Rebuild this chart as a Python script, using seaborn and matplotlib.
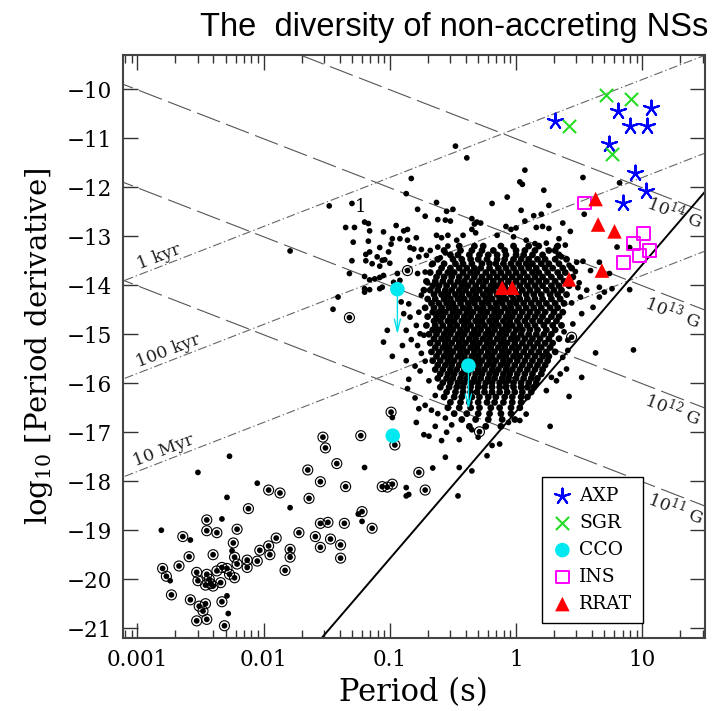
import numpy as np
import pandas as pd
import matplotlib
matplotlib.use("Agg")
import matplotlib.pyplot as plt
import seaborn as sns
from matplotlib.ticker import FixedLocator, FixedFormatter, NullFormatter, NullLocator

sns.set_style("ticks")
plt.rcParams["font.family"] = ["DejaVu Serif"]
plt.rcParams["mathtext.fontset"] = "dejavuserif"
plt.rcParams["text.color"] = "black"
plt.rcParams["axes.labelcolor"] = "black"

# ---------------- data (log10 P [s], log10 Pdot) ----------------
# sparse radio pulsars around the main cloud
halo_pts = [
    (-0.48,-11.16),(-0.39,-11.40),(0.07,-11.65),(-0.83,-11.82),(0.03,-11.89),(0.05,-11.94),(0.53,-11.80),
    (0.82,-11.91),(0.22,-12.06),(-0.87,-12.13),(-0.07,-12.20),(-0.63,-12.31),(-0.19,-12.33),(-1.30,-12.33),
    (-1.48,-12.38),(0.26,-12.37),(-0.55,-12.49),(-0.50,-12.45),(-0.78,-12.45),(0.04,-12.47),(0.54,-12.55),
    (0.14,-12.58),(0.20,-12.55),(-0.72,-12.59),(-0.62,-12.66),(-0.56,-12.67),(-0.52,-12.69),(-0.35,-12.64),
    (-0.31,-12.71),(-0.33,-12.75),(-0.28,-12.73),(0.07,-12.69),(0.37,-12.73),(-1.35,-12.82),(-1.28,-12.82),
    (-1.20,-12.71),(-1.17,-12.74),(-1.16,-12.89),(-0.95,-12.78),(-1.05,-12.91),(-0.89,-12.89),(-0.86,-12.86),
    (0.16,-12.82),(0.21,-12.80),(0.26,-12.84),(-0.08,-12.80),(-0.04,-12.86),(0.00,-12.83),(-0.35,-12.86),
    (-0.32,-12.93),(0.43,-12.90),(-0.42,-12.98),(-0.15,-12.98),(-0.02,-13.01),(0.08,-13.08),(0.15,-13.15),
    (0.24,-13.14),(0.34,-13.05),(0.32,-13.22),(0.39,-13.18),(-0.98,-13.05),(-1.29,-13.12),(-1.17,-13.10),
    (-0.99,-13.16),(-0.92,-13.05),(-0.86,-13.08),(-0.79,-13.03),(-0.63,-12.98),(-0.59,-13.03),(-0.54,-12.98),
    (-0.47,-13.08),(-1.79,-13.30),(-1.08,-13.23),(-1.01,-13.32),(-1.16,-13.32),(-1.19,-13.37),(-1.10,-13.42),
    (-1.04,-13.48),(-0.84,-13.23),(-0.81,-13.26),(-0.75,-13.27),(-0.68,-13.29),(-0.62,-13.22),(-0.54,-13.20),
    (0.80,-13.22),(0.90,-13.23),(0.36,-13.42),(-1.30,-13.50),(-1.19,-13.50),(-1.06,-13.49),(-1.00,-13.55),
    (-1.14,-13.56),(-1.08,-13.61),(-0.84,-13.49),(-0.77,-13.42),(-0.71,-13.39),(-0.60,-13.44),(-0.56,-13.34),
    (0.48,-13.53),(0.42,-13.59),(0.53,-13.51),(0.66,-13.53),(0.59,-13.70),(0.74,-13.76),(-1.32,-13.76),
    (-1.20,-13.82),(-1.16,-13.89),(-1.12,-13.87),(-1.08,-13.84),(-1.05,-13.80),(-0.94,-13.76),(-0.97,-13.94),
    (-0.92,-13.90),(-0.78,-13.76),(-0.72,-13.73),(-1.20,-14.07),(-1.16,-14.09),(-1.08,-14.07),(-1.06,-14.04),
    (-1.20,-14.14),(-1.41,-14.24),(-1.45,-14.49),(0.66,-14.04),(0.90,-14.09),(0.51,-14.24),(0.56,-14.10),
    (0.66,-14.24),(0.70,-14.14),(0.76,-14.07),(0.61,-14.45),(0.52,-14.58),(0.45,-14.79),(-0.91,-14.34),
    (-0.85,-14.38),(-0.89,-14.58),(-0.84,-14.65),(-0.79,-14.82),(-0.76,-14.99),(-1.02,-14.92),(-0.87,-14.92),
    (-1.05,-15.16),(-0.83,-15.11),(-0.90,-15.23),(-0.78,-15.23),(-0.75,-15.39),(-0.98,-15.45),(-0.87,-15.54),
    (-0.80,-15.65),(-0.76,-15.75),(-0.85,-15.92),(-0.86,-16.11),(-0.80,-16.30),(-0.77,-16.52),(-0.72,-16.45),
    (-0.67,-16.55),(-0.79,-16.80),(-0.98,-16.70),(-0.62,-16.62),(-0.56,-16.71),(-0.51,-16.85),(-0.73,-17.05),
    (-0.69,-17.08),(-0.64,-16.88),(-0.59,-17.17),(-0.55,-17.00),(-0.45,-17.15),(-0.30,-17.10),(-0.35,-16.95),
    (-0.66,-17.73),(-0.56,-17.51),(-0.45,-17.72),(-0.35,-17.79),(-0.46,-18.30),(-0.23,-17.48),(-0.13,-17.24),
    (-0.19,-17.27),(0.41,-15.33),(0.37,-15.47),(0.35,-15.81),(0.28,-15.88),(0.32,-15.95),(0.24,-16.15),
    (0.08,-16.63),(0.03,-16.76),(-0.06,-16.80),(0.40,-15.71),(0.52,-15.88),(0.42,-16.27),(0.27,-16.88),
    (0.63,-15.38),(0.93,-15.32),(-0.87,-18.13),(-0.85,-18.27),(0.47,-13.72),(0.50,-13.95),(0.44,-14.36),
    (0.49,-14.05),(0.38,-14.95),(0.41,-15.12),(-0.67,-13.58),(-0.70,-13.95),(-0.75,-14.20),(-0.77,-14.55),
    (-0.73,-15.02),(-0.72,-15.55),(-0.69,-15.95),(-0.64,-16.25),
]
# isolated (non-binary) millisecond pulsars
msp_pts = [
    (-2.81,-19.00),(-2.52,-17.82),(-2.27,-17.49),(-2.05,-18.04),(-2.29,-18.33),(-1.79,-18.54),(-2.33,-18.77),
    (-2.58,-19.20),(-2.74,-20.03),(-2.29,-20.34),(-2.28,-20.70),(-1.20,-17.72),(-1.22,-18.82),(-1.25,-18.67),
    (-0.87,-18.30),(-2.25,-19.42),
]
# dense core of the radio pulsar cloud, row by row
core_row_log10Pdot = [-13.20,-13.29,-13.38,-13.47,-13.56,-13.65,-13.74,-13.83,-13.92,-14.01,-14.10,-14.19,
                      -14.28,-14.37,-14.46,-14.55,-14.64,-14.73,-14.82,-14.91,-15.00,-15.09,-15.18,-15.27,
                      -15.36,-15.45,-15.54,-15.63,-15.72,-15.81,-15.90,-15.99,-16.08,-16.18,-16.28,-16.39,
                      -16.50,-16.62,-16.74,-16.88]
core_row_log10P = [
    [-0.45,-0.33,-0.26,-0.12,-0.02,0.10,0.18,0.33],
    [-0.57,-0.44,-0.35,-0.27,-0.18,-0.09,0.00,0.07,0.15,0.26,0.31],
    [-0.52,-0.46,-0.37,-0.29,-0.22,-0.15,-0.08,0.00,0.06,0.13,0.21,0.34],
    [-0.62,-0.50,-0.43,-0.36,-0.30,-0.23,-0.15,-0.09,-0.02,0.04,0.10,0.17,0.23,0.31,0.40],
    [-0.66,-0.57,-0.48,-0.42,-0.35,-0.27,-0.21,-0.16,-0.10,-0.04,0.02,0.08,0.13,0.20,0.26,0.34],
    [-0.59,-0.52,-0.45,-0.39,-0.33,-0.28,-0.21,-0.14,-0.08,-0.02,0.04,0.10,0.16,0.23,0.29,0.37,0.44],
    [-0.68,-0.61,-0.54,-0.49,-0.42,-0.36,-0.31,-0.24,-0.18,-0.12,-0.06,0.00,0.06,0.13,0.18,0.25,0.33,0.39],
    [-0.63,-0.57,-0.51,-0.45,-0.39,-0.33,-0.27,-0.21,-0.15,-0.09,-0.03,0.03,0.09,0.15,0.21,0.28,0.35,0.45],
    [-0.71,-0.64,-0.58,-0.52,-0.46,-0.41,-0.35,-0.29,-0.24,-0.18,-0.12,-0.06,0.00,0.06,0.12,0.18,0.24,0.31,0.38],
    [-0.66,-0.61,-0.55,-0.49,-0.43,-0.38,-0.32,-0.26,-0.20,-0.15,-0.09,-0.03,0.03,0.09,0.15,0.21,0.28,0.34,0.42],
    [-0.73,-0.68,-0.62,-0.56,-0.51,-0.45,-0.40,-0.34,-0.29,-0.23,-0.18,-0.12,-0.07,-0.01,0.05,0.11,0.17,0.24,0.30,0.36],
    [-0.65,-0.59,-0.54,-0.48,-0.43,-0.37,-0.32,-0.26,-0.21,-0.15,-0.10,-0.04,0.02,0.08,0.14,0.20,0.27,0.33,0.40],
    [-0.70,-0.64,-0.57,-0.52,-0.46,-0.41,-0.35,-0.30,-0.24,-0.19,-0.13,-0.08,-0.02,0.03,0.09,0.15,0.21,0.28,0.35],
    [-0.67,-0.61,-0.55,-0.50,-0.44,-0.38,-0.33,-0.27,-0.22,-0.16,-0.11,-0.05,0.00,0.06,0.12,0.18,0.24,0.31,0.38],
    [-0.72,-0.65,-0.59,-0.53,-0.48,-0.42,-0.37,-0.31,-0.26,-0.20,-0.15,-0.09,-0.04,0.02,0.08,0.14,0.20,0.27,0.33],
    [-0.66,-0.61,-0.56,-0.50,-0.45,-0.39,-0.34,-0.28,-0.23,-0.17,-0.12,-0.06,-0.01,0.05,0.11,0.17,0.23,0.30,0.37],
    [-0.70,-0.63,-0.58,-0.52,-0.47,-0.41,-0.36,-0.30,-0.25,-0.19,-0.14,-0.08,-0.03,0.03,0.09,0.15,0.21,0.28,0.34],
    [-0.65,-0.60,-0.54,-0.49,-0.43,-0.38,-0.32,-0.27,-0.21,-0.16,-0.10,-0.05,0.01,0.07,0.13,0.19,0.25,0.32],
    [-0.71,-0.64,-0.58,-0.52,-0.47,-0.41,-0.36,-0.30,-0.25,-0.19,-0.14,-0.08,-0.03,0.03,0.09,0.15,0.22,0.29,0.36],
    [-0.66,-0.61,-0.55,-0.50,-0.44,-0.39,-0.33,-0.28,-0.22,-0.17,-0.11,-0.06,0.00,0.05,0.11,0.17,0.24,0.31],
    [-0.69,-0.63,-0.57,-0.52,-0.46,-0.41,-0.35,-0.30,-0.24,-0.19,-0.13,-0.08,-0.02,0.04,0.10,0.16,0.22,0.28],
    [-0.65,-0.59,-0.54,-0.48,-0.43,-0.37,-0.32,-0.26,-0.21,-0.15,-0.10,-0.04,0.01,0.07,0.13,0.19,0.26,0.34],
    [-0.68,-0.62,-0.56,-0.51,-0.45,-0.40,-0.34,-0.29,-0.23,-0.18,-0.12,-0.07,-0.01,0.05,0.11,0.17,0.23,0.29],
    [-0.64,-0.58,-0.53,-0.47,-0.42,-0.36,-0.31,-0.25,-0.20,-0.14,-0.09,-0.03,0.02,0.08,0.14,0.20,0.27],
    [-0.67,-0.61,-0.55,-0.50,-0.44,-0.39,-0.33,-0.28,-0.22,-0.17,-0.11,-0.06,0.00,0.06,0.12,0.18,0.24,0.31],
    [-0.63,-0.57,-0.52,-0.46,-0.41,-0.35,-0.30,-0.24,-0.19,-0.13,-0.08,-0.02,0.03,0.09,0.15,0.21,0.26],
    [-0.66,-0.60,-0.54,-0.49,-0.43,-0.38,-0.32,-0.27,-0.21,-0.16,-0.10,-0.05,0.01,0.07,0.13,0.19,0.25],
    [-0.62,-0.56,-0.51,-0.45,-0.40,-0.34,-0.29,-0.23,-0.18,-0.12,-0.07,-0.01,0.05,0.11,0.17,0.23],
    [-0.64,-0.58,-0.52,-0.47,-0.41,-0.36,-0.30,-0.25,-0.19,-0.14,-0.08,-0.03,0.03,0.09,0.15,0.21],
    [-0.60,-0.54,-0.49,-0.43,-0.38,-0.32,-0.27,-0.21,-0.16,-0.10,-0.05,0.01,0.07,0.13,0.20],
    [-0.62,-0.55,-0.50,-0.44,-0.39,-0.33,-0.28,-0.22,-0.17,-0.11,-0.06,0.00,0.06,0.12,0.17],
    [-0.58,-0.52,-0.46,-0.41,-0.35,-0.30,-0.24,-0.19,-0.13,-0.08,-0.02,0.04,0.10,0.16],
    [-0.60,-0.53,-0.47,-0.42,-0.36,-0.30,-0.25,-0.19,-0.13,-0.08,-0.02,0.04,0.09,0.14],
    [-0.55,-0.48,-0.42,-0.36,-0.31,-0.25,-0.19,-0.13,-0.07,-0.01,0.05,0.12],
    [-0.57,-0.49,-0.43,-0.35,-0.29,-0.22,-0.16,-0.09,-0.03,0.04,0.09],
    [-0.52,-0.44,-0.37,-0.30,-0.23,-0.17,-0.10,-0.03,0.04],
    [-0.54,-0.45,-0.36,-0.29,-0.20,-0.13,-0.04,0.03],
    [-0.49,-0.39,-0.30,-0.21,-0.12,-0.04],
    [-0.43,-0.32,-0.22,-0.11,-0.01],
    [-0.37,-0.24,-0.12],
]
# binary pulsars (circled)
binary_pts = [
    (-1.32,-14.66),(-0.86,-13.70),(0.44,-15.06),(-0.06,-15.95),(-0.29,-16.99),(-0.99,-16.59),(-0.77,-17.82),
    (-0.72,-18.18),(-1.53,-17.10),(-1.51,-17.32),(-1.23,-17.07),(-0.96,-17.26),(-1.42,-17.64),(-1.65,-17.77),
    (-1.55,-18.01),(-1.35,-18.11),(-1.06,-18.11),(-1.02,-18.12),(-0.98,-18.06),(-1.64,-18.35),(-1.96,-18.18),
    (-1.87,-18.24),(-2.12,-18.56),(-1.22,-18.62),(-1.55,-18.86),(-1.49,-18.84),(-1.36,-18.86),(-1.14,-18.96),
    (-1.72,-19.05),(-1.59,-19.13),(-1.55,-19.35),(-1.47,-19.18),(-1.39,-19.30),(-1.39,-19.57),(-1.90,-19.16),
    (-1.96,-19.32),(-1.79,-19.39),(-1.79,-19.55),(-1.83,-19.82),(-2.45,-18.79),(-2.45,-19.01),(-2.37,-19.05),
    (-2.21,-18.98),(-2.24,-19.26),(-2.64,-19.13),(-2.59,-19.54),(-2.40,-19.50),(-2.23,-19.55),(-2.21,-19.69),
    (-2.13,-19.61),(-2.05,-19.63),(-2.03,-19.41),(-1.95,-19.50),(-2.80,-19.78),(-2.77,-19.94),(-2.67,-19.73),
    (-2.53,-19.86),(-2.45,-19.90),(-2.43,-20.00),(-2.37,-19.83),(-2.33,-19.76),(-2.29,-19.78),(-2.27,-19.90),
    (-2.23,-19.97),(-2.13,-19.76),(-2.52,-20.03),(-2.46,-20.12),(-2.40,-20.14),(-2.34,-20.07),(-2.42,-20.09),
    (-2.73,-20.32),(-2.58,-20.42),(-2.51,-20.55),(-2.48,-20.65),(-2.46,-20.50),(-2.33,-20.46),(-2.53,-20.85),
    (-2.45,-20.82),(-2.31,-20.95),
]
# special classes
axp_log10P    = [0.31, 0.81, 1.07, 0.90, 1.04, 0.74, 0.94, 1.03, 0.85]
axp_log10Pdot = [-10.64, -10.44, -10.39, -10.75, -10.74, -11.12, -11.71, -12.07, -12.33]
sgr_log10P    = [0.71, 0.91, 0.42, 0.76]
sgr_log10Pdot = [-10.12, -10.20, -10.74, -11.33]
cco_log10P    = [-0.94, -0.377, -0.977]
cco_log10Pdot = [-14.08, -15.64, -17.07]
cco_limit_to  = [-15.06, -16.59, None]          # arrow tips (upper limits)
ins_log10P    = [0.54, 1.01, 0.93, 1.06, 0.98, 0.85]
ins_log10Pdot = [-12.32, -12.95, -13.15, -13.29, -13.39, -13.54]
rrat_log10P    = [0.63, 0.65, 0.78, 0.68, 0.42, -0.11, -0.03]
rrat_log10Pdot = [-12.24, -12.76, -12.90, -13.70, -13.88, -14.05, -14.05]

# reference lines
bfield_log10G = [11, 12, 13, 14]
bfield_label_pos = [(1.262, -18.56), (1.243, -16.54), (1.243, -14.55), (1.259, -12.51)]
age_labels = ["1 kyr", "100 kyr", "10 Myr"]
age_label_pos = [(-2.83, -13.42), (-2.754, -15.35), (-2.79, -17.38)]
age_years = [1e3, 1e5, 1e7]

# ---------------- build tables ----------------
core_x, core_y = [], []
for yv, xs in zip(core_row_log10Pdot, core_row_log10P):
    core_x += xs
    core_y += [yv] * len(xs)
sparse = pd.DataFrame({
    "P": [10 ** p[0] for p in halo_pts + msp_pts + binary_pts],
    "log10Pdot": [p[1] for p in halo_pts + msp_pts + binary_pts],
})
core = pd.DataFrame({"P": 10 ** np.array(core_x), "log10Pdot": core_y})
binaries = pd.DataFrame({"P": [10 ** p[0] for p in binary_pts], "log10Pdot": [p[1] for p in binary_pts]})

fig = plt.figure(figsize=(7.19, 7.11), dpi=100)
ax = fig.add_axes([0.17066, 0.10267, 0.8099, 0.81997])

xlo, xhi = -3.116, 1.497
lp = np.linspace(xlo - 0.1, xhi + 0.1, 400)
P_line = 10 ** lp
for lb in bfield_log10G:
    ax.plot(P_line, 2 * lb - 39.01 - lp, color="#555555", lw=0.8, dashes=(22, 6), zorder=1)
for yr in age_years:
    ax.plot(P_line, lp - np.log10(2 * yr * 3.156e7), color="#666666", lw=0.8,
            dashes=(8, 2.5, 1.2, 2.5), zorder=1)
ax.plot(P_line, 3 * lp - 16.58, color="black", lw=1.4, zorder=2)   # death line

sns.scatterplot(data=sparse, x="P", y="log10Pdot", ax=ax, s=17, color="black",
                edgecolor="none", linewidth=0, zorder=3, legend=False)
sns.scatterplot(data=core, x="P", y="log10Pdot", ax=ax, s=24, color="black",
                edgecolor="none", linewidth=0, zorder=3, legend=False)
sns.scatterplot(data=binaries, x="P", y="log10Pdot", ax=ax, s=52, marker="o",
                facecolor="none", edgecolor="black", linewidth=0.8, zorder=3, legend=False)

# CCO upper-limit arrows
for lx, ly, lt in zip(cco_log10P, cco_log10Pdot, cco_limit_to):
    if lt is not None:
        ax.annotate("", xy=(10 ** lx, lt), xytext=(10 ** lx, ly),
                    arrowprops=dict(arrowstyle="->,head_length=0.9,head_width=0.22",
                                    color="#00e0e8", lw=1.0), zorder=4)

sns.scatterplot(x=10 ** np.array(axp_log10P), y=axp_log10Pdot, ax=ax, marker=(5, 2, 0), s=130,
                color="#0000ff", linewidth=1.5, zorder=6, label="AXP", legend=False)
sns.scatterplot(x=10 ** np.array(sgr_log10P), y=sgr_log10Pdot, ax=ax, marker="x", s=90,
                color="#22dd22", linewidth=1.5, zorder=6, label="SGR", legend=False)
sns.scatterplot(x=10 ** np.array(cco_log10P), y=cco_log10Pdot, ax=ax, marker="o", s=110,
                color="#00e8f0", edgecolor="none", zorder=6, label="CCO", legend=False)
sns.scatterplot(x=10 ** np.array(ins_log10P), y=ins_log10Pdot, ax=ax, marker="s", s=85,
                facecolor="none", edgecolor="#ff00ff", linewidth=1.4, zorder=6, label="INS", legend=False)
sns.scatterplot(x=10 ** np.array(rrat_log10P), y=rrat_log10Pdot, ax=ax, marker="^", s=110,
                color="#ff0000", edgecolor="none", zorder=6, label="RRAT", legend=False)

# axes
ax.set_xscale("log")
ax.set_xlim(10 ** xlo, 10 ** xhi)
ax.set_ylim(-21.2, -9.30)
ax.xaxis.set_major_locator(FixedLocator([0.001, 0.01, 0.1, 1, 10]))
ax.xaxis.set_major_formatter(FixedFormatter(["0.001", "0.01", "0.1", "1", "10"]))
minors = [m * 10.0 ** e for e in range(-4, 2) for m in range(2, 10)]
ax.xaxis.set_minor_locator(FixedLocator(minors))
ax.xaxis.set_minor_formatter(NullFormatter())
ax.set_yticks(list(range(-21, -9)))
ax.yaxis.set_minor_locator(NullLocator())
ax.tick_params(which="both", direction="in", top=True, right=True, colors="#333333", labelcolor="black")
ax.tick_params(which="major", length=11, width=1.0, labelsize=15.5)
ax.tick_params(which="minor", length=5.5, width=1.0)
ax.tick_params(axis="x", which="major", pad=8)
ax.tick_params(axis="y", which="major", pad=8)
for sp in ax.spines.values():
    sp.set_color("#444444")
    sp.set_linewidth(1.5)

ax.set_xlabel("Period (s)", fontsize=22, labelpad=4, color="black")
ax.set_ylabel(r"log$_{10}$ [Period derivative]", fontsize=21, labelpad=8, color="black")

# line labels
for txt, (tx, ty) in zip(age_labels, age_label_pos):
    ax.text(10 ** tx, ty, txt, fontsize=12.5, rotation=21, ha="center", va="center", color="#222222")
for lb, (bx, by) in zip(bfield_log10G, bfield_label_pos):
    ax.text(10 ** bx, by, r"$10^{%d}$ G" % lb, fontsize=12.5, rotation=-21, ha="center", va="center",
            color="#222222")
ax.text(10 ** -1.236, -12.41, "1", fontsize=13, ha="center", va="center", color="black")

leg = ax.legend(loc="upper left", bbox_to_anchor=(0.7196, 0.2767), borderaxespad=0, frameon=True,
                fancybox=False, edgecolor="black", framealpha=1, fontsize=13.5, handletextpad=0.35,
                borderpad=0.55, labelspacing=0.48, handlelength=1.1)
leg.get_frame().set_linewidth(1.0)
leg.set_zorder(10)
for t in leg.get_texts():
    t.set_color("black")

fig.text(0.985, 0.962, "The  diversity of non-accreting NSs", fontsize=23.5, ha="right", va="center",
         family=["Liberation Sans", "DejaVu Sans"], color="black")

fig.savefig("out.png", dpi=100)
